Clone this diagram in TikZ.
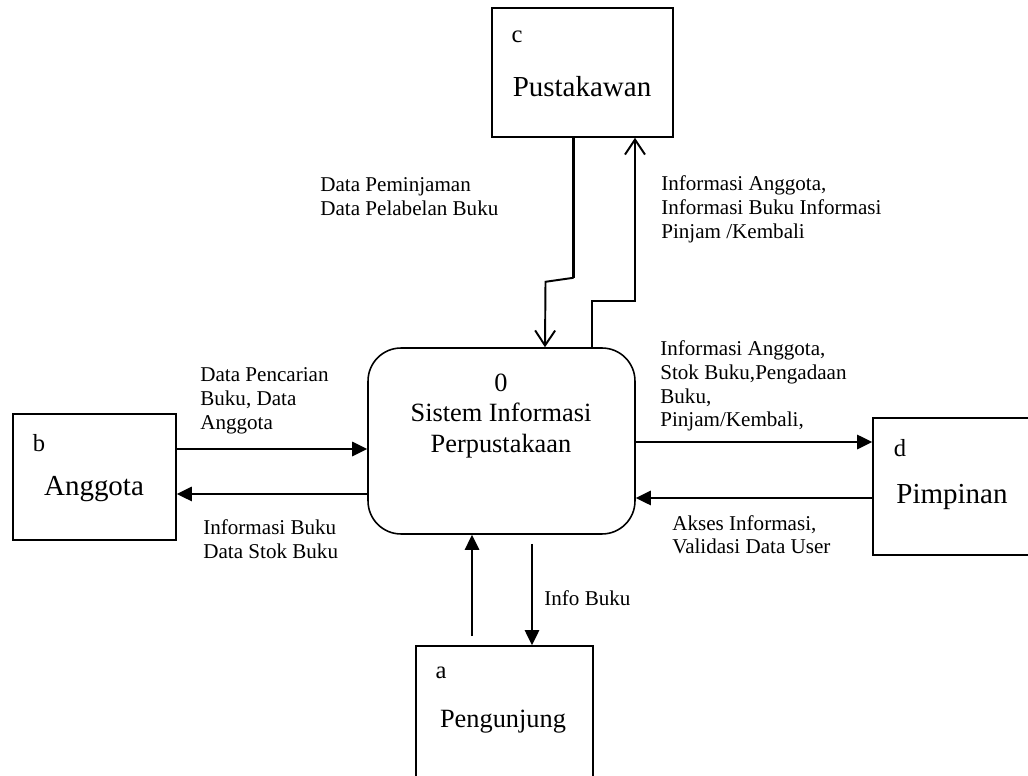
\documentclass[tikz,border=0pt]{standalone}
\usepackage{fontspec}
\setmainfont{Liberation Serif}
\usetikzlibrary{arrows.meta,positioning,calc}
\tikzset{>=Stealth}

\begin{document}
\begin{tikzpicture}[
    x=0.02cm, y=-0.02cm,
    entity/.style={draw, line width=0.9pt, inner sep=0pt},
    process/.style={draw, line width=0.9pt, rounded corners=0.66cm, minimum width=5.34cm, minimum height=3.72cm, inner sep=0pt},
    idtxt/.style={font=\fontsize{14}{16}\selectfont, inner sep=0pt},
    nametxt/.style={font=\fontsize{16.5}{19}\selectfont, inner sep=0pt},
    lbl/.style={font=\fontsize{12}{13.5}\selectfont, align=left, anchor=north west, inner sep=0pt},
    flow/.style={line width=1.5pt, -{Triangle[length=0.3cm, width=0.28cm]}},
    oflow/.style={line width=1.1pt, -{Straight Barb[length=0.3cm, width=0.4cm]}}
  ]
    \useasboundingbox (0,0) rectangle (1028,776);
    % entitas luar
    \node[entity, minimum width=3.62cm, minimum height=2.58cm] (pus) at (582.5,72.5) {};
    \node[idtxt] (pusid) at (517,37) {c};
    \node[nametxt] (pusname) at (582,87) {Pustakawan};
    \node[entity, minimum width=3.26cm, minimum height=2.52cm] (agt) at (94.5,477) {};
    \node[idtxt] (agtid) at (39,443) {b};
    \node[nametxt] (agtname) at (94,489) {Anggota};
    \node[entity, minimum width=3.34cm, minimum height=2.74cm] (pim) at (956.5,486.5) {};
    \node[idtxt] (pimid) at (900,448) {d};
    \node[nametxt] (pimname) at (952,497) {Pimpinan};
    \node[entity, minimum width=3.54cm, minimum height=2.88cm] (pen) at (504.5,718) {};
    \node[idtxt] (penid) at (441,673) {a};
    \node[nametxt, font=\fontsize{15}{17}\selectfont] (penname) at (503,722) {Pengunjung};
    % proses
    \node[process] (proc) at (501.5,441) {};
    \node[font=\fontsize{15}{17.5}\selectfont, align=center, inner sep=0pt] (proctxt) at (501,416) {0\\Sistem Informasi\\Perpustakaan};

    % aliran data
    \draw[line width=2.2pt] ([xshift=-0.18cm]pus.south) -- ++(0,140) coordinate (k1);
    \draw[oflow] (k1) -- ++(-28,4) -- ([xshift=0.87cm]proc.north);
    \draw[oflow] ([xshift=1.81cm]proc.north) -- ++(0,-46) -| ([xshift=1.05cm]pus.south);
    \draw[flow] ([yshift=0.56cm]agt.east) -- ([yshift=0.56cm]agt.east -| proc.west);
    \draw[flow] ([yshift=-0.34cm]agt.east -| proc.west) -- ([yshift=-0.34cm]agt.east);
    \draw[flow] ([yshift=0.89cm]pim.west -| proc.east) -- ([yshift=0.89cm]pim.west);
    \draw[flow] ([yshift=-0.23cm]pim.west) -- ([yshift=-0.23cm]pim.west -| proc.east);
    \draw[flow] ($([xshift=-0.65cm]pen.north)+(0,-9)$) -- ([xshift=-0.65cm]pen.north |- proc.south);
    \draw[flow] ($([xshift=0.55cm]pen.north |- proc.south)+(0,9)$) -- ([xshift=0.55cm]pen.north);

    % label
    \node[lbl] (lpinjam) at (320,177.5) {Data Peminjaman\\Data Pelabelan Buku};
    \node[lbl] (linfopus) at (661,175.5) {Informasi Anggota,\\Informasi Buku Informasi\\Pinjam /Kembali};
    \node[lbl] (lcari) at (200,367.5) {Data Pencarian\\Buku, Data\\Anggota};
    \node[lbl] (linfopim) at (660,340.5) {Informasi Anggota,\\Stok Buku,Pengadaan\\Buku,\\Pinjam/Kembali,};
    \node[lbl] (lbuku) at (203,519.5) {Informasi Buku\\Data Stok Buku};
    \node[lbl] (lakses) at (672,515) {Akses Informasi,\\Validasi Data User};
    \node[lbl] (linfo) at (544,590.5) {Info Buku};
\end{tikzpicture}
\end{document}
